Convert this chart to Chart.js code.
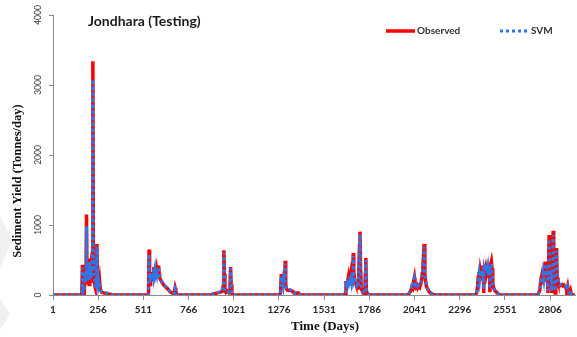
<!DOCTYPE html>
<html>
<head>
<meta charset="utf-8">
<title>Jondhara (Testing)</title>
<script src="https://cdn.jsdelivr.net/npm/chart.js@4.4.1/dist/chart.umd.min.js"></script>
<style>
  html, body { margin: 0; padding: 0; background: #fff; }
  #c { display: block; }
</style>
</head>
<body>
<canvas id="c" width="577" height="337"></canvas>
<script>
// values (day, observed, SVM)
const days = [
  1, 155, 160, 164, 167, 170, 174, 178, 183, 187, 190, 193, 196, 199, 202, 205, 208, 211, 214, 217, 220, 223, 226, 229, 232, 235, 238, 242, 246, 249, 252, 256, 260, 264, 268, 275, 285, 300, 315, 335, 350,
  535, 540, 543, 546, 549, 552, 555, 558, 561, 564, 567, 570, 573, 576, 579, 582, 585, 588, 591, 594, 597, 600, 603, 607, 612, 618, 624, 630, 636, 642, 648, 654, 660, 666, 672, 678, 684, 690, 694, 698, 705,
  895, 903, 915, 930, 945, 955, 961, 965, 968, 971, 976, 982, 988, 994, 999, 1003, 1006, 1010, 1015, 1020,
  1280, 1285, 1289, 1292, 1296, 1300, 1304, 1308, 1311, 1314, 1318, 1322, 1330, 1338, 1346, 1355, 1362, 1370, 1378, 1386, 1392, 1400,
  1645, 1650, 1654, 1658, 1662, 1667, 1671, 1675, 1680, 1684, 1688, 1692, 1695, 1698, 1702, 1706, 1710, 1714, 1718, 1722, 1726, 1730, 1733, 1736, 1740, 1745, 1750, 1755, 1760, 1763, 1766, 1769, 1775, 1785, 1790,
  2005, 2012, 2020, 2026, 2031, 2036, 2040, 2043, 2048, 2053, 2058, 2064, 2070, 2075, 2080, 2084, 2088, 2092, 2095, 2099, 2103, 2108, 2116, 2125, 2135, 2144, 2155,
  2385, 2391, 2396, 2400, 2404, 2408, 2412, 2416, 2420, 2424, 2428, 2431, 2434, 2438, 2442, 2446, 2450, 2454, 2458, 2462, 2466, 2470, 2474, 2478, 2482, 2487, 2494, 2503, 2512, 2522,
  2735, 2742, 2748, 2752, 2757, 2762, 2766, 2770, 2774, 2777, 2781, 2785, 2789, 2793, 2797, 2800, 2803, 2807, 2811, 2815, 2819, 2823, 2826, 2830, 2834, 2838, 2842, 2845, 2850, 2855, 2860, 2866, 2872, 2878, 2884, 2890, 2896, 2900, 2905, 2910, 2915, 2921, 2926, 2946
];
const observed = [
  0, 0, 10, 60, 430, 40, 120, 60, 380, 150, 1150, 200, 450, 300, 480, 150, 520, 250, 420, 200, 550, 600, 3340, 300, 580, 200, 120, 80, 200, 730, 150, 250, 120, 200, 80, 40, 30, 25, 15, 5, 0,
  0, 20, 650, 300, 150, 250, 320, 200, 280, 330, 250, 400, 300, 380, 260, 300, 350, 280, 330, 400, 420, 300, 250, 220, 200, 170, 150, 130, 120, 100, 90, 70, 50, 40, 30, 20, 10, 100, 60, 0, 0,
  0, 15, 20, 30, 40, 50, 120, 640, 300, 60, 40, 60, 40, 30, 60, 400, 150, 30, 0, 0,
  0, 40, 300, 150, 200, 120, 250, 160, 490, 150, 90, 70, 65, 70, 60, 50, 20, 30, 25, 30, 10, 0,
  0, 20, 200, 120, 180, 250, 160, 220, 300, 200, 350, 250, 600, 200, 250, 180, 150, 120, 140, 100, 300, 700, 905, 400, 100, 60, 30, 20, 10, 300, 530, 60, 20, 5, 0,
  0, 30, 60, 120, 100, 200, 250, 180, 120, 140, 100, 130, 110, 150, 200, 300, 420, 600, 729, 300, 200, 120, 80, 40, 20, 10, 0,
  0, 30, 120, 250, 330, 200, 340, 280, 360, 300, 420, 30, 400, 330, 380, 300, 350, 420, 250, 430, 40, 440, 480, 380, 150, 100, 60, 40, 20, 0,
  0, 30, 80, 200, 260, 150, 300, 200, 350, 476, 300, 250, 400, 30, 450, 857, 300, 200, 350, 30, 400, 919, 350, 200, 30, 300, 671, 250, 200, 150, 130, 140, 150, 130, 140, 120, 100, 60, 120, 40, 10, 60, 0, 0
];
const svm = [
  0, 0, 15, 70, 390, 60, 110, 80, 330, 180, 980, 260, 420, 330, 450, 200, 480, 280, 400, 240, 520, 560, 3080, 340, 560, 230, 150, 100, 220, 690, 180, 230, 140, 190, 100, 50, 35, 30, 20, 8, 0,
  0, 30, 580, 320, 180, 270, 300, 230, 290, 320, 270, 380, 310, 360, 280, 310, 340, 290, 340, 380, 400, 310, 260, 230, 210, 180, 160, 140, 125, 110, 95, 75, 55, 45, 35, 25, 15, 90, 60, 5, 0,
  0, 20, 25, 35, 45, 55, 140, 600, 320, 80, 50, 65, 50, 40, 70, 380, 170, 40, 5, 0,
  0, 50, 270, 170, 210, 140, 240, 180, 450, 170, 100, 80, 70, 75, 65, 55, 25, 35, 30, 30, 15, 0,
  0, 30, 190, 140, 190, 240, 180, 230, 280, 210, 330, 260, 560, 220, 260, 190, 160, 130, 150, 120, 290, 660, 870, 420, 120, 70, 40, 25, 15, 280, 500, 80, 25, 8, 0,
  0, 40, 70, 130, 110, 190, 240, 200, 140, 150, 120, 140, 130, 160, 210, 290, 400, 570, 690, 320, 210, 130, 90, 50, 25, 12, 0,
  0, 40, 130, 240, 310, 220, 320, 290, 350, 310, 400, 80, 380, 340, 370, 310, 340, 400, 280, 410, 90, 420, 450, 370, 180, 110, 70, 45, 25, 0,
  0, 40, 90, 190, 250, 170, 290, 220, 340, 450, 320, 270, 390, 60, 430, 800, 330, 230, 340, 60, 380, 860, 360, 220, 60, 290, 630, 260, 210, 160, 140, 150, 140, 140, 130, 130, 110, 70, 110, 50, 15, 50, 5, 0
];
const xTicks = [1, 256, 511, 766, 1021, 1276, 1531, 1786, 2041, 2296, 2551, 2806];
const yTicks = [0, 1000, 2000, 3000, 4000];

const obsPoints = days.map((d, i) => ({ x: d, y: observed[i] }));
const svmPoints = days.map((d, i) => ({ x: d, y: svm[i] }));

// title, legend, axis titles and the faint watermark
const decor = {
  id: 'decor',
  beforeDraw(chart) {
    const ctx = chart.ctx;
    ctx.save();
    ctx.fillStyle = '#f0f0f0';
    ctx.beginPath(); ctx.moveTo(0, 216); ctx.lineTo(12, 240); ctx.lineTo(0, 268); ctx.closePath(); ctx.fill();
    ctx.beginPath(); ctx.moveTo(0, 298); ctx.lineTo(10, 314); ctx.lineTo(0, 330); ctx.closePath(); ctx.fill();
    ctx.restore();
  },
  afterDraw(chart) {
    const ctx = chart.ctx;
    const ds = chart.data.datasets;
    ctx.save();
    ctx.fillStyle = '#1a1a1a';
    ctx.textBaseline = 'middle';
    ctx.font = 'bold 14px Lato';
    ctx.textAlign = 'left';
    ctx.fillText('Jondhara (Testing)', 88, 21);

    // legend
    ctx.font = 'bold 10px Lato';
    ctx.fillStyle = '#333';
    const items = [[ds[1], 386, 415], [ds[0], 500, 529]];
    items.forEach(([d, x0, x1]) => {
      ctx.beginPath();
      ctx.strokeStyle = d.borderColor;
      ctx.lineWidth = d.borderWidth;
      ctx.setLineDash(d.borderDash || []);
      ctx.moveTo(x0, 31); ctx.lineTo(x1, 31);
      ctx.stroke();
      ctx.setLineDash([]);
      ctx.fillText(d.label, x1 + 2, 31);
    });

    // axis titles
    ctx.fillStyle = '#111';
    ctx.font = 'bold 13px "Liberation Serif"';
    ctx.textAlign = 'center';
    ctx.fillText('Time (Days)', 325, 327);
    ctx.translate(18, 181);
    ctx.rotate(-Math.PI / 2);
    ctx.font = 'bold 12.5px "Liberation Serif"';
    ctx.fillText('Sediment Yield (Tonnes/day)', 0, 0);
    ctx.restore();
  }
};

new Chart(document.getElementById('c'), {
  type: 'line',
  data: {
    datasets: [
      { label: 'SVM', data: svmPoints, borderColor: '#2a78ec', borderWidth: 3, borderDash: [3, 3], pointRadius: 0, tension: 0, order: 1 },
      { label: 'Observed', data: obsPoints, borderColor: '#ff0000', borderWidth: 3.5, pointRadius: 0, tension: 0, order: 2 }
    ]
  },
  options: {
    responsive: false,
    animation: false,
    devicePixelRatio: 1,
    layout: { padding: { top: 15, right: 2, left: 0, bottom: 0 } },
    plugins: { legend: { display: false }, tooltip: { enabled: false } },
    scales: {
      x: {
        type: 'linear',
        min: 1,
        max: 2946,
        afterBuildTicks: s => { s.ticks = xTicks.map(v => ({ value: v })); },
        afterFit: s => { s.height = 42; },
        grid: { drawOnChartArea: false, drawTicks: true, tickLength: 5, color: '#8a8a8a' },
        border: { color: '#8a8a8a', width: 1 },
        ticks: { autoSkip: false, maxRotation: 0, padding: 4, color: '#262626', font: { family: 'Lato', size: 10, weight: 'bold' }, callback: v => String(v) }
      },
      y: {
        min: 0,
        max: 4000,
        afterBuildTicks: s => { s.ticks = yTicks.map(v => ({ value: v })); },
        afterFit: s => { s.width = 53; },
        grid: { drawOnChartArea: false, drawTicks: true, tickLength: 4, color: '#8a8a8a' },
        border: { color: '#8a8a8a', width: 1 },
        ticks: { minRotation: 90, maxRotation: 90, crossAlign: 'center', padding: 1, color: '#404040', font: { family: 'Lato', size: 8.5 }, callback: v => String(v) }
      }
    }
  },
  plugins: [decor]
});
</script>
</body>
</html>
